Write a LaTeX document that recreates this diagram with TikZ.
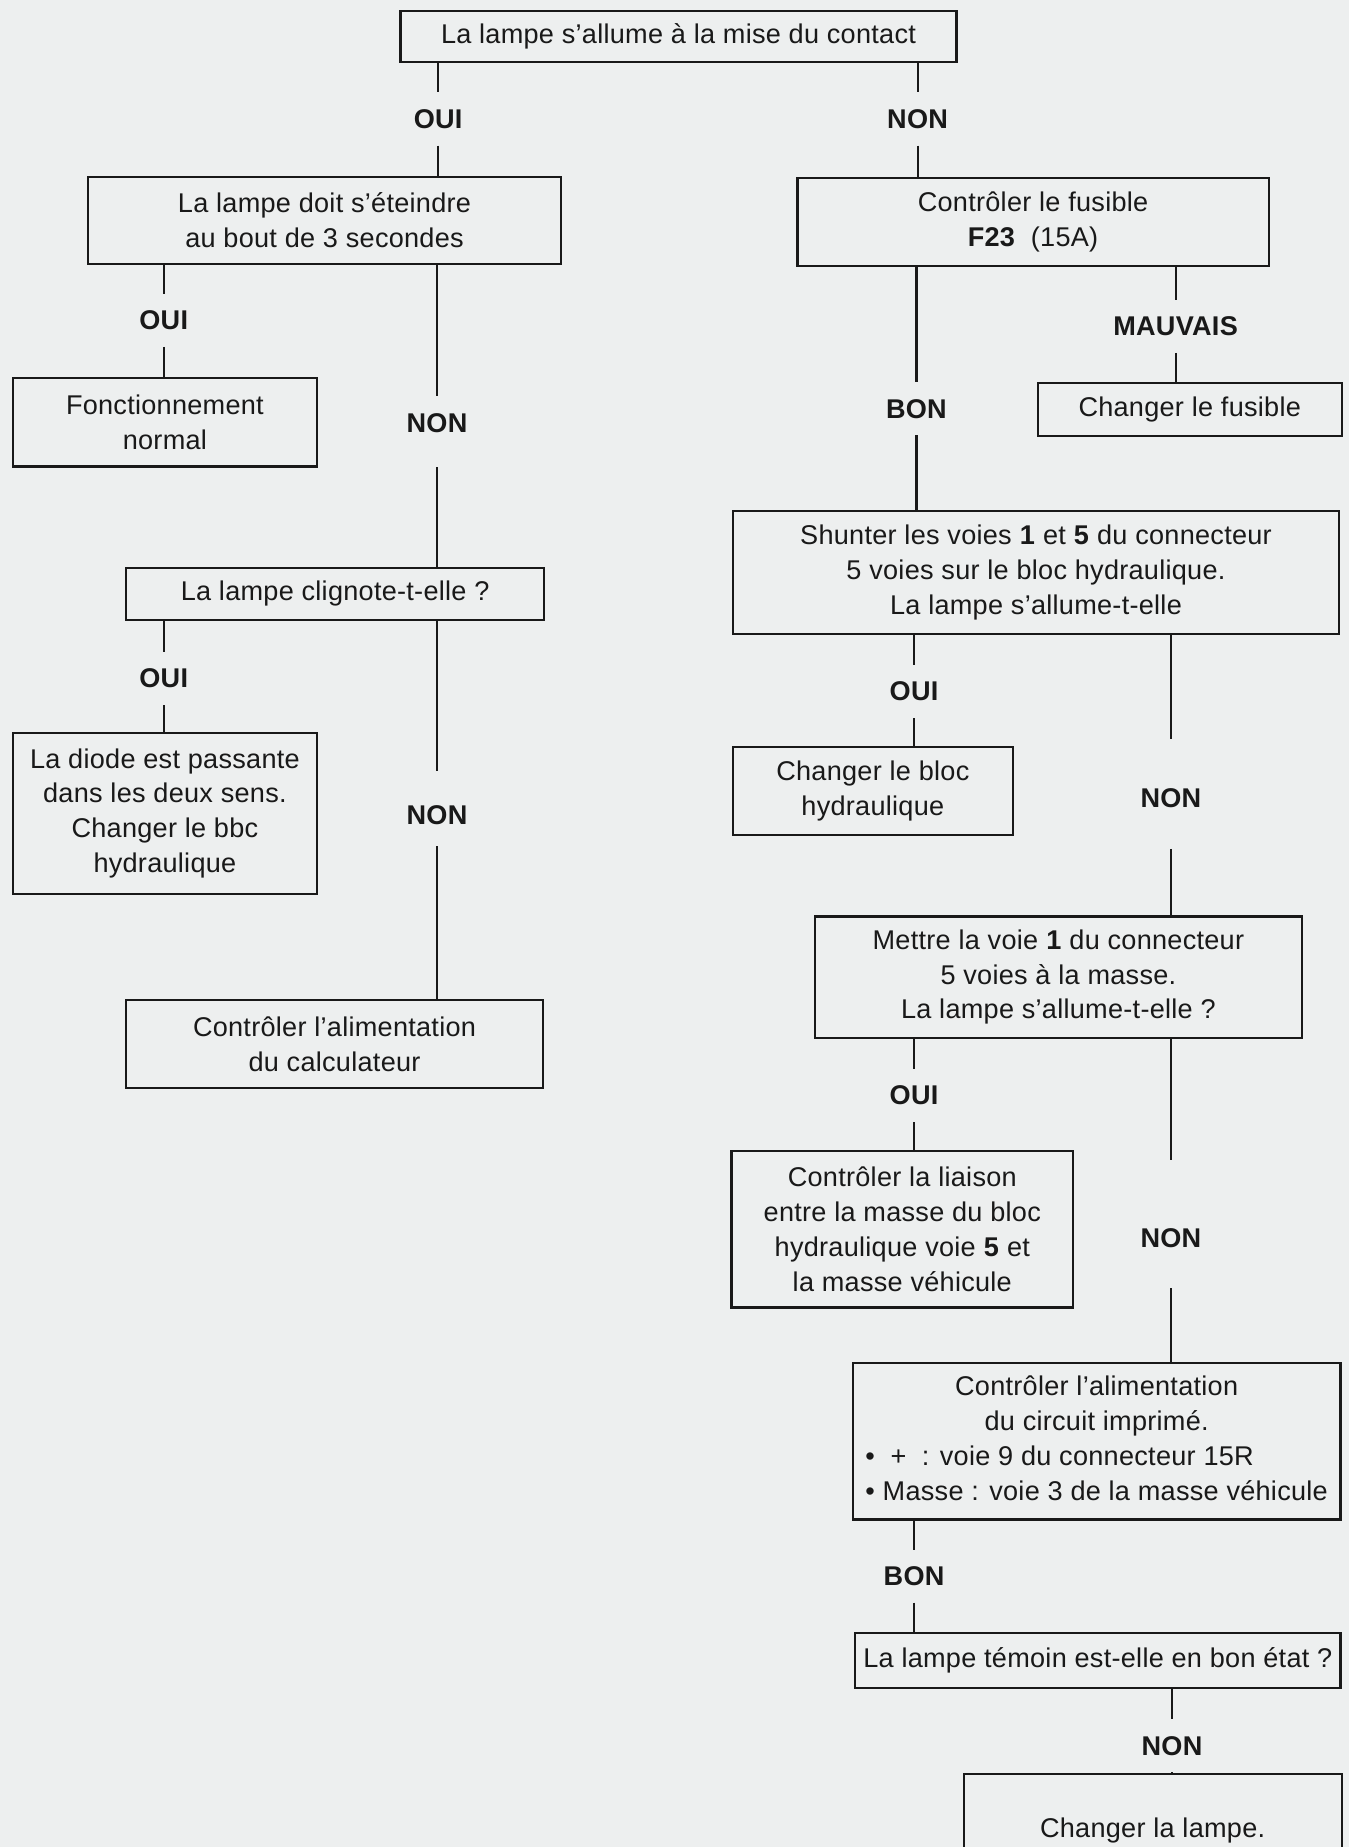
\documentclass[tikz,border=0pt]{standalone}
\usepackage{fontspec}
\setmainfont[LetterSpace=1]{Liberation Sans}
\definecolor{paper}{RGB}{237,239,239}
\definecolor{ink}{RGB}{25,25,25}
\begin{document}
\begin{tikzpicture}[x=0.5pt,y=-0.5pt,
  every node/.style={font=\fontsize{11.5}{14.8}\selectfont, text=ink},
  box/.style={draw=ink, line width=0.9pt, align=center, inner sep=0pt},
  lbl/.style={font=\fontsize{11.5}{14.8}\selectfont\bfseries, inner xsep=0pt, inner ysep=7pt},
  link/.style={draw=ink, line width=0.9pt}]
\path[fill=paper] (0,0) rectangle (1145,1568);
\clip (0,0) rectangle (1145,1568);

% boxes
\node[box, minimum width=236pt, minimum height=22pt] (top) at (576,31) {La lampe s’allume à la mise du contact};
\node[box, minimum width=200.5pt, minimum height=37pt] (b4) at (275.5,187) {La lampe doit s’éteindre\\au bout de 3 secondes};
\node[box, minimum width=200pt, minimum height=37.5pt] (b5) at (877,188.5) {Contrôler le fusible\\\textbf{F23}\ \ (15A)};
\node[box, minimum width=129pt, minimum height=37.5pt] (b6) at (140,358.5) {Fonctionnement\\normal};
\node[box, minimum width=177.5pt, minimum height=22pt] (b7) at (284.5,504) {La lampe clignote-t-elle ?};
\node[box, minimum width=129pt, minimum height=68.5pt] (b8) at (140,690.5) {La diode est passante\\dans les deux sens.\\Changer le bbc\\hydraulique};
\node[box, minimum width=177pt, minimum height=37.5pt] (b9) at (284,886.5) {Contrôler l’alimentation\\du calculateur};
\node[box, minimum width=129pt, minimum height=22.5pt] (b10) at (1010,347.5) {Changer le fusible};
\node[box, minimum width=257.5pt, minimum height=52pt] (b11) at (879.5,486) {Shunter les voies \textbf{1} et \textbf{5} du connecteur\\5 voies sur le bloc hydraulique.\\La lampe s’allume-t-elle};
\node[box, minimum width=119pt, minimum height=37.5pt] (b12) at (741,671.5) {Changer le bloc\\hydraulique};
\node[box, minimum width=206.5pt, minimum height=51.5pt] (b13) at (898.5,829.5) {Mettre la voie \textbf{1} du connecteur\\5 voies à la masse.\\La lampe s’allume-t-elle ?};
\node[box, minimum width=145pt, minimum height=66.5pt] (b14) at (766,1043.5) {Contrôler la liaison\\entre la masse du bloc\\hydraulique voie \textbf{5} et\\la masse véhicule};
\node[box, minimum width=207pt, minimum height=66.5pt] (b15) at (931,1223.5) {%
  \begin{tabular}{@{}l@{}}
  \multicolumn{1}{@{}c@{}}{Contrôler l’alimentation}\\
  \multicolumn{1}{@{}c@{}}{du circuit imprimé.}\\
  • \ + \ : voie 9 du connecteur 15R\\
  • Masse : voie 3 de la masse véhicule
  \end{tabular}};
\node[box, minimum width=206pt, minimum height=23.5pt] (b16) at (932,1409.5) {La lampe témoin est-elle en bon état ?};
\node[box, minimum width=160.5pt, minimum height=48pt] (b17) at (978.5,1554) {Changer la lampe.};

% labels
\node[lbl] (l1) at (372,101) {OUI};
\node[lbl] (l2) at (779,101) {NON};
\node[lbl] (l3) at (139,272) {OUI};
\node[lbl] (l4) at (371,359) {NON};
\node[lbl] (l5) at (139,576) {OUI};
\node[lbl] (l6) at (371,692) {NON};
\node[lbl] (l7) at (778,347) {BON};
\node[lbl] (l8) at (998,277) {MAUVAIS};
\node[lbl] (l9) at (776,587) {OUI};
\node[lbl] (l10) at (994,678) {NON};
\node[lbl] (l11) at (776,930) {OUI};
\node[lbl] (l12) at (994,1051) {NON};
\node[lbl] (l13) at (776,1338) {BON};
\node[lbl] (l14) at (995,1482) {NON};

% connectors
\draw[link] (top.south -| l1) -- (l1);
\draw[link] (l1) -- (b4.north -| l1);
\draw[link] (top.south -| l2) -- (l2);
\draw[link] (l2) -- (b5.north -| l2);

\draw[link] (b4.south -| l3) -- (l3);
\draw[link] (l3) -- (b6.north -| l3);
\draw[link] (b4.south -| l4) -- (l4);
\draw[link, shorten <=7.5pt] (l4) -- (b7.north -| l4);

\draw[link] (b7.south -| l5) -- (l5);
\draw[link] (l5) -- (b8.north -| l5);
\draw[link, shorten >=7.5pt] (b7.south -| l6) -- (l6);
\draw[link, shorten <=2pt] (l6) -- (b9.north -| l6);

\draw[link] (b5.south -| l7) -- (l7);
\draw[link] (l7) -- (b11.north -| l7);
\draw[link] (b5.south -| l8) -- (l8);
\draw[link] (l8) -- (b10.north -| l8);

\draw[link] (b11.south -| l9) -- (l9);
\draw[link] (l9) -- (b12.north -| l9);
\draw[link, shorten >=14pt] (b11.south -| l10) -- (l10);
\draw[link, shorten <=10pt] (l10) -- (b13.north -| l10);

\draw[link] (b13.south -| l11) -- (l11);
\draw[link] (l11) -- (b14.north -| l11);
\draw[link, shorten >=22pt] (b13.south -| l12) -- (l12);
\draw[link, shorten <=10pt] (l12) -- (b15.north -| l12);

\draw[link] (b15.south -| l13) -- (l13);
\draw[link] (l13) -- (b16.north -| l13);
\draw[link] (b16.south -| l14) -- (l14);
\draw[link] (l14) -- (b17.north -| l14);
\end{tikzpicture}
\end{document}
